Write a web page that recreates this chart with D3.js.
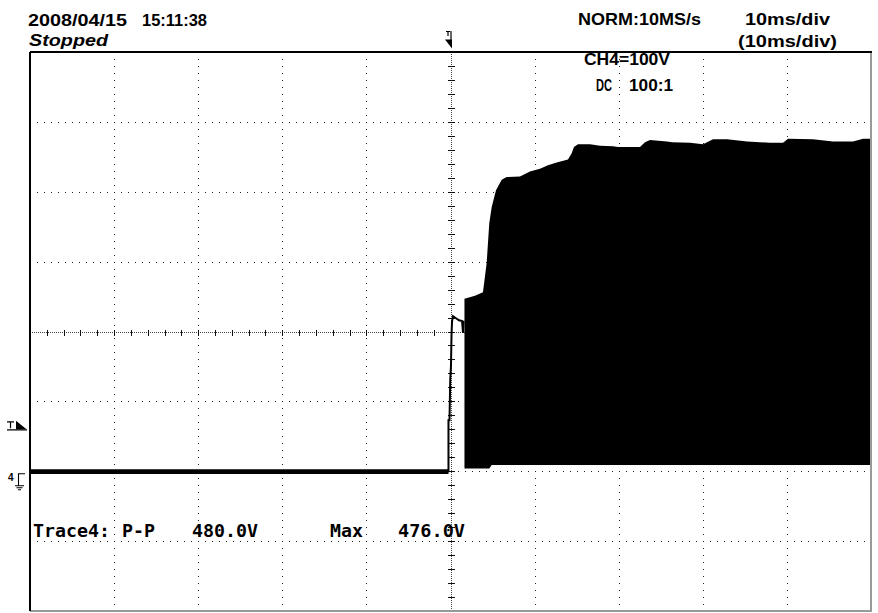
<!DOCTYPE html>
<html>
<head>
<meta charset="utf-8">
<script src="https://cdn.jsdelivr.net/npm/d3@7"></script>
<style>
  html, body { margin: 0; padding: 0; background: #fff; }
  svg { display: block; }
</style>
</head>
<body>
<svg id="scope" width="878" height="613"></svg>
<script>
// Horizontal: time in ms relative to trigger, 10 ms/div. Vertical: CH4 volts, 100 V/div.
const timeDivs = [-50, -40, -30, -20, -10, 0, 10, 20, 30, 40, 50];
const voltDivs = [-200, -100, 0, 100, 200, 300, 400, 500, 600];

// Pre-trigger trace band (V)
const preTime = [-50, -0.24];
const preHi = [3, 3];
const preLo = [-4, -4];

// Trigger edge, drawn as a single trace
const edgeTime = [-0.42, -0.24, -0.24, -0.12, -0.03, 0.06, 0.12, 0.18, 0.30, 0.65, 1.01, 1.37, 1.49, 1.55, 1.66];
const edgeV    = [0, 0, 73, 73, 131, 152, 195, 214, 222, 219, 216, 215, 198, 214, 214];

// Post-trigger switching envelope (upper / lower, V)
const postTime = [1.66, 2.91, 3.86, 4.30, 4.61, 4.90, 5.41, 6.09, 6.68, 8.26, 9.45, 10.64, 11.59, 12.63, 13.97, 14.41, 14.68, 15.16, 16.59, 17.78,
                  19.32, 19.92, 22.53, 23.13, 23.72, 25.74, 26.34, 28.48, 30.03, 31.21, 32.88, 35.26, 37.99, 39.54, 40.13, 43.10, 45.48, 47.86, 49.05, 50.00];
const postHi   = [247, 251, 256, 298, 355, 378, 402, 417, 421, 422, 429, 433, 438, 442, 446, 455, 464, 468, 468, 466,
                  465, 464, 464, 471, 474, 472, 471, 470, 468, 475, 475, 472, 470, 470, 476, 475, 472, 472, 476, 476];
const postLo   = [4, 4, 4, 4, 4, 9, 9, 9, 9, 9, 9, 9, 9, 9, 9, 9, 9, 9, 9, 9,
                  9, 9, 9, 9, 9, 9, 9, 9, 9, 9, 9, 9, 9, 9, 9, 9, 9, 9, 9, 9];

const triggerLevel = 60;   // V
const groundLevel = 0;     // V

// Header / status texts
const dateText = "2008/04/15";
const clockText = "15:11:38";
const statusText = "Stopped";
const sampleText = "NORM:10MS/s";
const timebaseText = "10ms/div";
const timebaseSubText = "(10ms/div)";
const channelText = "CH4=100V";
const couplingText = "DC";
const probeText = "100:1";
const traceName = "Trace4:";
const measNames = ["P-P", "Max"];

const svg = d3.select("#scope");
const x = d3.scaleLinear().domain([-50, 50]).range([30, 871]);
const y = d3.scaleLinear().domain([-200, 600]).range([611, 52]);

// ---------- grid ----------
const grid = svg.append("g").attr("shape-rendering", "crispEdges");
const dotColor = "#222";
const vStep = 10, hStep = 10 / 12;

timeDivs.filter(t => t > -50 && t < 50 && t !== 0).forEach(t => {
  d3.range(-190, 600, vStep).forEach(v => {
    grid.append("rect").attr("x", Math.round(x(t)) - 0.5).attr("y", Math.round(y(v)) - 0.5)
      .attr("width", 1.3).attr("height", 1.3).attr("fill", dotColor);
  });
});
voltDivs.filter(v => v > -200 && v < 600 && v !== 200).forEach(v => {
  d3.range(-50 + hStep, 50 - 0.01, hStep).forEach(t => {
    grid.append("rect").attr("x", Math.round(x(t)) - 0.5).attr("y", Math.round(y(v)) - 0.5)
      .attr("width", 1.3).attr("height", 1.3).attr("fill", dotColor);
  });
});

// center cross with fine dots and minor ticks
const cx = Math.round(x(0)) + 0.5, cy = Math.round(y(200)) + 0.5;
grid.append("line").attr("x1", cx).attr("x2", cx).attr("y1", y(600)).attr("y2", y(-200))
  .attr("stroke", "#444").attr("stroke-width", 1).attr("stroke-dasharray", "1,1");
grid.append("line").attr("x1", x(-50)).attr("x2", x(50)).attr("y1", cy).attr("y2", cy)
  .attr("stroke", "#444").attr("stroke-width", 1).attr("stroke-dasharray", "1,1");
d3.range(-180, 600, 20).forEach(v => {
  const yy = Math.round(y(v)) + 0.5;
  grid.append("line").attr("x1", cx - 3.5).attr("x2", cx + 3.5).attr("y1", yy).attr("y2", yy)
    .attr("stroke", "#111").attr("stroke-width", 1);
});
d3.range(-48, 50, 2).forEach(t => {
  const xx = Math.round(x(t)) + 0.5;
  grid.append("line").attr("x1", xx).attr("x2", xx).attr("y1", cy - 3).attr("y2", cy + 3)
    .attr("stroke", "#111").attr("stroke-width", 1);
});

// ---------- waveform ----------
const area = d3.area().x(d => x(d.t)).y0(d => y(d.lo)).y1(d => y(d.hi));
const preData = preTime.map((t, i) => ({ t, hi: preHi[i], lo: preLo[i] }));
const postData = postTime.map((t, i) => ({ t, hi: postHi[i], lo: postLo[i] }));
const edgeData = edgeTime.map((t, i) => ({ t, v: edgeV[i] }));

const wave = svg.append("g");
wave.append("path").attr("d", area(preData)).attr("fill", "#000");
wave.append("path").attr("d", area(postData)).attr("fill", "#000");
wave.append("path")
  .attr("d", d3.line().x(d => x(d.t)).y(d => y(d.v))(edgeData))
  .attr("fill", "none").attr("stroke", "#000").attr("stroke-width", 2).attr("stroke-linejoin", "miter");

// ---------- frame ----------
const frame = svg.append("g").attr("shape-rendering", "crispEdges");
frame.append("line").attr("x1", x(50)).attr("x2", x(50)).attr("y1", y(600)).attr("y2", y(-200) + 1)
  .attr("stroke", "#999").attr("stroke-width", 2);
frame.append("line").attr("x1", x(-50)).attr("x2", x(50) + 1).attr("y1", y(-200)).attr("y2", y(-200))
  .attr("stroke", "#999").attr("stroke-width", 2);
frame.append("line").attr("x1", x(-50)).attr("x2", x(-50)).attr("y1", y(600)).attr("y2", y(-200))
  .attr("stroke", "#000").attr("stroke-width", 1.5);
frame.append("line").attr("x1", x(-50)).attr("x2", x(50) + 1).attr("y1", y(600) - 0.5).attr("y2", y(600) - 0.5)
  .attr("stroke", "#000").attr("stroke-width", 2);

// ---------- markers ----------
const mk = svg.append("g").attr("fill", "#000").attr("stroke", "#000");
// trigger position marker above the frame
const tx = x(0);
mk.append("path").attr("d", `M${tx - 4.5},31.5 H${tx - 0.5} M${tx - 2.5},31.5 V36 M${tx + 0.5},31 V40`)
  .attr("fill", "none").attr("stroke-width", 1.2);
mk.append("path").attr("d", `M${tx - 5.5},39.5 L${tx + 1.5},39.5 L${tx + 1.5},48.5 Z`).attr("stroke", "none");

// trigger level marker on the left
const ty = y(triggerLevel);
mk.append("path").attr("d", `M7,${ty - 7.5} H14 M10.5,${ty - 7.5} V${ty - 1} M7,${ty + 0.5} H27`)
  .attr("fill", "none").attr("stroke-width", 1.2);
mk.append("path").attr("d", `M16,${ty - 8.5} L26.5,${ty} L16,${ty} Z`).attr("stroke", "none");

// channel ground marker
const gy = y(groundLevel);
svg.append("text").attr("x", 8).attr("y", gy + 9.5).text("4")
  .attr("font-family", "Liberation Sans, Arial, sans-serif").attr("font-weight", "bold").attr("font-size", 10);
mk.append("path")
  .attr("d", `M25,${gy + 2.5} H18.5 V${gy + 14.5} M15,${gy + 14.5} H24 M16.5,${gy + 16.5} H22.5 M18,${gy + 18.5} H21`)
  .attr("fill", "none").attr("stroke-width", 1.1);

// ---------- texts ----------
function label(txt, px, py, len, opt = {}) {
  const el = svg.append("text")
    .attr("x", px).attr("y", py)
    .attr("font-family", opt.family || "Liberation Sans, Arial, sans-serif")
    .attr("font-size", opt.size || 16.5)
    .attr("font-weight", opt.weight || "bold")
    .attr("font-style", opt.style || "normal")
    .attr("fill", "#000")
    .text(txt);
  if (len) el.attr("textLength", len).attr("lengthAdjust", "spacingAndGlyphs");
  return el;
}

label(dateText, 28, 26, 99);
label(clockText, 142, 26, 65);
label(statusText, 29, 45.5, 79, { style: "italic", size: 16 });
label(sampleText, 578, 25, 123);
label(timebaseText, 745, 25, 85);
label(timebaseSubText, 738, 47, 99);
label(channelText, 584, 65, 86);
label(couplingText, 596, 91, 16);
label(probeText, 629, 91, 44);

// measurement readout computed from the drawn envelope
const allHi = preHi.concat(edgeV, postHi);
const allLo = preLo.concat(edgeV, postLo);
const vMax = d3.max(allHi), vMin = d3.min(allLo);
const fmt = v => d3.format(".1f")(v) + "V";
const mono = { family: "DejaVu Sans Mono, monospace", size: 18, weight: "bold" };
label(traceName, 33, 536.5, 77, mono);
label(measNames[0], 122, 536.5, 33, mono);
label(fmt(vMax - vMin), 192, 536.5, 66, mono);
label(measNames[1], 330, 536.5, 33, mono);
label(fmt(vMax), 398, 536.5, 67, mono);
</script>
</body>
</html>
